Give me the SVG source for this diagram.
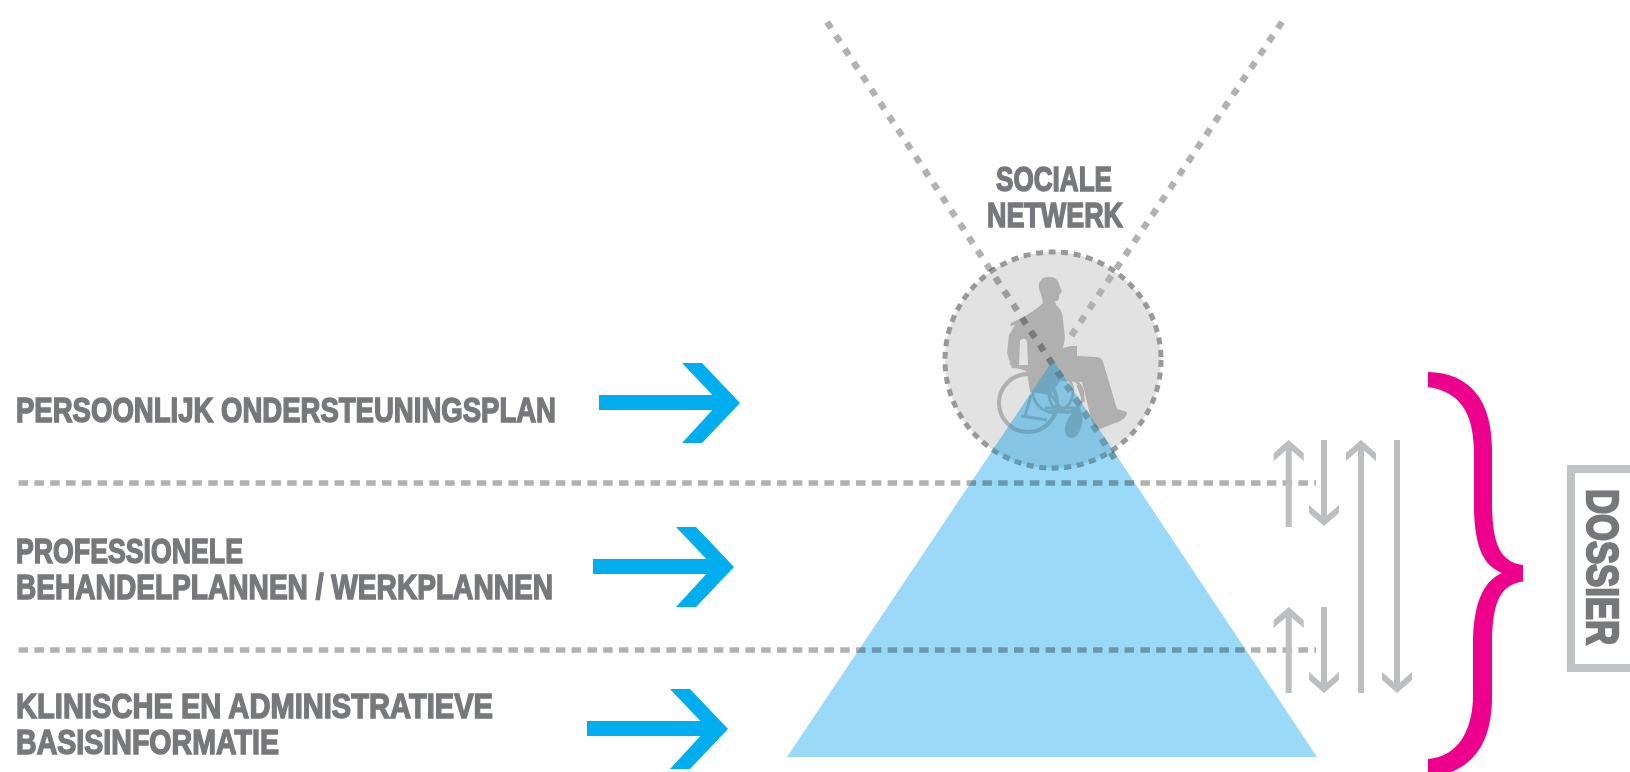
<svg xmlns="http://www.w3.org/2000/svg" width="1630" height="772" viewBox="0 0 1630 772">
<style>
.t{font-family:"Liberation Sans Narrow","Liberation Sans",Arial,sans-serif;font-weight:700;font-size:35px;fill:#77787b;stroke:#77787b;stroke-width:1.5px}
.dash{fill:none;stroke:#b1b1b1;stroke-width:5.5;stroke-dasharray:9.5 6.3}
.diag{fill:none;stroke:#b1b1b1;stroke-width:6.5;stroke-dasharray:7.5 8.6}
.gr{fill:none;stroke:#bcbec0;stroke-width:6}
.man{fill:#b0b0b0}
.ln{fill:none;stroke:#b0b0b0;stroke-width:2.8}
.mul{mix-blend-mode:multiply}
</style>
<defs>
<marker id="chev" markerUnits="userSpaceOnUse" markerWidth="40" markerHeight="40" orient="auto" overflow="visible" refX="0" refY="0"><path d="M4 0L-9 -15H-17L-4 0L-17 15H-9Z" fill="#bcbec0"/></marker>
<path id="blue" d="M599 395H712.4L682 363H702L740 403L702 443H682L712.4 410H599Z" fill="#00aeef"/>
<clipPath id="inCircle"><circle cx="1053" cy="360" r="110"/></clipPath>
</defs>
<rect width="1630" height="772" fill="#fff"/>

<g id="person-circle">
<circle cx="1053" cy="360" r="108" fill="#e2e2e2"/>
<path class="diag" d="M1282 22L1067 342"/>
<circle cx="1053" cy="360" r="108" fill="none" stroke="#999" stroke-width="5" stroke-dasharray="7 5.6"/>
</g>

<g id="person">
<path class="man" fill-rule="evenodd" d="M1047 277C1053 276 1058 279 1059 284L1062 292L1059 295L1059 299C1058 301 1056 301 1055 301L1056 305C1060 308 1063 313 1063 320L1065 338L1063 348L1071 346H1077L1077 356L1096 357C1101 357 1103 360 1104 365L1117 409L1127 412C1127 417 1122 421 1115 423L1100 429C1094 428 1092 424 1091 418L1082 382L1060 381L1050 395L1030 392L1027 372L1022 369L1012 368L1007 353L1009 335L1015 325L1010 326L1011 323L1024 317L1036 309L1043 303L1041 294C1036 285 1040 278 1047 277ZM1020 341L1019 365L1028 365L1027 341C1025 338 1022 338 1020 341Z"/>
<circle cx="1028" cy="403" r="29" class="ln" style="stroke-width:4"/>
<circle cx="1066" cy="395" r="17" class="ln"/>
<circle cx="1053" cy="392" r="20" class="ln"/>
<path class="ln" d="M1010 363L1024 369M1031 395L1025 416M1021 416L1047 420M1040 380L1062 410M1045 408H1080M1048 412H1075M1078 385L1084 402"/>
<path class="man" d="M1078 405C1084 413 1084 425 1078 434C1072 442 1064 437 1065 428C1066 420 1072 413 1078 405Z"/>
</g>

<g id="connectors">
<path class="diag mul" d="M827 22L1117 462"/>
<path class="dash mul" d="M18.6 483H1316"/>
<path class="dash mul" d="M18.6 650H1316"/>
<path class="gr" d="M1288.7 527V444" marker-end="url(#chev)"/>
<path class="gr" d="M1324 440V522" marker-end="url(#chev)"/>
<path class="gr" d="M1361 693V444" marker-end="url(#chev)"/>
<path class="gr" d="M1397 440V689" marker-end="url(#chev)"/>
<path class="gr" d="M1288.7 693V611" marker-end="url(#chev)"/>
<path class="gr" d="M1324 607V689" marker-end="url(#chev)"/>
</g>

<g id="pyramid">
<path class="mul" d="M1053 360L1317 757H787Z" fill="#9ad9f7"/>
<path d="M1053 360L1317 757H787Z" fill="#7ed0f5" fill-opacity=".3" clip-path="url(#inCircle)"/>
</g>

<g id="label-sociale">
<text class="t" x="996" y="191" textLength="116" lengthAdjust="spacingAndGlyphs">SOCIALE</text>
<text class="t" x="987" y="227" textLength="136" lengthAdjust="spacingAndGlyphs">NETWERK</text>
</g>

<g id="row-1">
<text class="t" x="16" y="422" textLength="540" lengthAdjust="spacingAndGlyphs">PERSOONLIJK ONDERSTEUNINGSPLAN</text>
<use href="#blue"/>
</g>
<g id="row-2">
<text class="t" x="16" y="563" textLength="227" lengthAdjust="spacingAndGlyphs">PROFESSIONELE</text>
<text class="t" x="16" y="599" textLength="537" lengthAdjust="spacingAndGlyphs">BEHANDELPLANNEN / WERKPLANNEN</text>
<use href="#blue" transform="translate(-6 164)"/>
</g>
<g id="row-3">
<text class="t" x="16" y="718" textLength="477" lengthAdjust="spacingAndGlyphs">KLINISCHE EN ADMINISTRATIEVE</text>
<text class="t" x="16" y="754" textLength="263" lengthAdjust="spacingAndGlyphs">BASISINFORMATIE</text>
<use href="#blue" transform="translate(-12 326)"/>
</g>

<g id="brace">
<path fill="#ec008c" d="M1428 372C1470 373 1492 400 1492 450V500C1492 540 1498 562 1523 565V581.5C1500 585 1493 602 1492 640V700C1491 745 1472 772 1428 778V759C1458 757 1473 730 1473 695V640C1474 605 1482 582 1502 573C1484 566 1475 548 1474 510V450C1473 412 1460 392 1428 387Z"/>
</g>

<g id="dossier">
<path d="M1640 469H1571V668H1640" fill="none" stroke="#c1c2c4" stroke-width="8"/>
<text class="t" transform="translate(1587 489) rotate(90)" style="font-size:45px;stroke-width:2.4px" textLength="156" lengthAdjust="spacingAndGlyphs">DOSSIER</text>
</g>
</svg>
